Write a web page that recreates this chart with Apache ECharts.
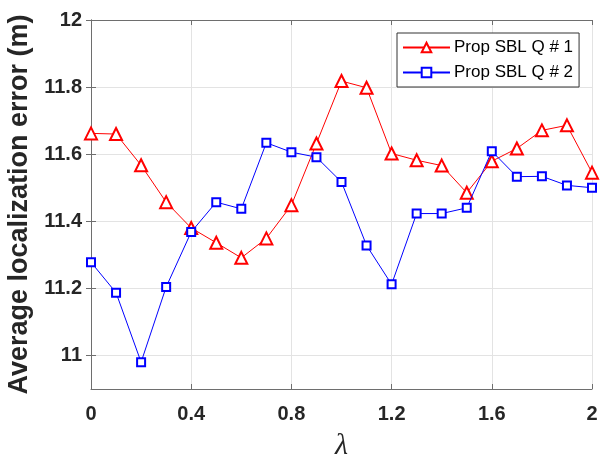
<!DOCTYPE html>
<html>
<head>
<meta charset="utf-8">
<script src="https://cdn.jsdelivr.net/npm/echarts@6/dist/echarts.min.js"></script>
<style>
  html, body { margin: 0; padding: 0; background: #fff; }
  #chart { width: 601px; height: 456px; }
</style>
</head>
<body>
<div id="chart"></div>
<script>
// lambda sweep and the two error curves
const lambdaValues = [0, 0.1, 0.2, 0.3, 0.4, 0.5, 0.6, 0.7, 0.8, 0.9, 1.0,
    1.1, 1.2, 1.3, 1.4, 1.5, 1.6, 1.7, 1.8, 1.9, 2.0]
const q1Errors = [11.662, 11.66, 11.567, 11.457, 11.38, 11.336, 11.291, 11.349, 11.448, 11.632, 11.818,
    11.798, 11.602, 11.582, 11.566, 11.485, 11.579, 11.617, 11.671, 11.686, 11.545]
const q2Errors = [11.278, 11.187, 10.98, 11.204, 11.368, 11.457, 11.437, 11.634, 11.606, 11.591, 11.517,
    11.328, 11.212, 11.423, 11.423, 11.44, 11.609, 11.533, 11.534, 11.507, 11.5]
const seriesNames = ['Prop SBL Q # 1', 'Prop SBL Q # 2']
const yTickValues = [11, 11.2, 11.4, 11.6, 11.8, 12]

const pairs = (ys) => lambdaValues.map((x, i) => [x, ys[i]])

const axisGray = '#6e6e6e'
const labelColor = '#262626'
const font = '"Liberation Sans", Arial, Helvetica, sans-serif'

const chart = echarts.init(document.getElementById('chart'))
const option = {
    animation: false,
    grid: { left: 91, right: 9, top: 20, bottom: 67, containLabel: false, outerBoundsMode: 'none' },
    legend: {
        orient: 'vertical',
        left: 397,
        top: 33,
        padding: [6, 6, 6, 5],
        itemWidth: 47,
        itemHeight: 12,
        itemGap: 8,
        backgroundColor: '#fff',
        borderColor: '#333',
        borderWidth: 1,
        textStyle: { fontFamily: font, fontSize: 17, color: '#000', padding: [0, 0, 0, -1] },
        data: seriesNames,
    },
    xAxis: [
        {
            type: 'value',
            min: 0,
            max: 2,
            interval: 0.4,
            name: 'λ',
            nameLocation: 'middle',
            nameGap: 42,
            nameTextStyle: { fontFamily: '"Liberation Serif", "Times New Roman", serif', fontStyle: 'italic', fontSize: 30, color: labelColor },
            axisLine: { lineStyle: { color: axisGray, width: 1 } },
            axisTick: { inside: true, length: 5, lineStyle: { color: axisGray } },
            axisLabel: {
                fontFamily: font, fontWeight: 'bold', fontSize: 20, color: labelColor, margin: 15,
                formatter: (v) => String(+v.toFixed(1)),
            },
            splitLine: { show: true, lineStyle: { color: '#e3e3e3', width: 1 } },
        },
        {
            type: 'value',
            position: 'top',
            min: 0,
            max: 2,
            interval: 0.4,
            axisLine: { show: true, lineStyle: { color: axisGray, width: 1 } },
            axisTick: { show: true, inside: true, length: 5, lineStyle: { color: axisGray } },
            axisLabel: { show: false },
            splitLine: { show: false },
        },
    ],
    yAxis: [
        {
            type: 'value',
            min: 10.9,
            max: 12,
            name: 'Average localization error (m)',
            nameLocation: 'middle',
            nameGap: 56,
            nameTextStyle: { fontFamily: font, fontWeight: 'bold', fontSize: 27, color: labelColor },
            axisLine: { show: true, lineStyle: { color: axisGray, width: 1 } },
            axisTick: { show: true, inside: true, length: 5, customValues: yTickValues, lineStyle: { color: axisGray } },
            axisLabel: {
                fontFamily: font, fontWeight: 'bold', fontSize: 20, color: labelColor, margin: 9,
                customValues: yTickValues,
                formatter: (v) => String(+v.toFixed(1)),
            },
            splitLine: { show: true, lineStyle: { color: '#e3e3e3', width: 1 } },
        },
        {
            type: 'value',
            position: 'right',
            min: 10.9,
            max: 12,
            axisLine: { show: true, lineStyle: { color: axisGray, width: 1 } },
            axisTick: { show: true, inside: true, length: 5, customValues: yTickValues, lineStyle: { color: axisGray } },
            axisLabel: { show: false, customValues: yTickValues },
            splitLine: { show: false },
        },
    ],
    series: [
        {
            name: seriesNames[0],
            type: 'line',
            data: pairs(q1Errors),
            symbol: 'emptyTriangle',
            symbolSize: 12,
            color: '#ff0000',
            lineStyle: { width: 1, color: '#ff0000' },
            itemStyle: { color: '#ff0000', borderWidth: 1 },
            z: 3,
        },
        {
            name: seriesNames[1],
            type: 'line',
            data: pairs(q2Errors),
            symbol: 'emptyRect',
            symbolSize: 8,
            color: '#0000ff',
            lineStyle: { width: 1, color: '#0000ff' },
            itemStyle: { color: '#0000ff', borderWidth: 1 },
            z: 4,
        },
    ],
}
chart.setOption(option)
window.addEventListener('resize', () => chart.resize())
</script>
</body>
</html>
